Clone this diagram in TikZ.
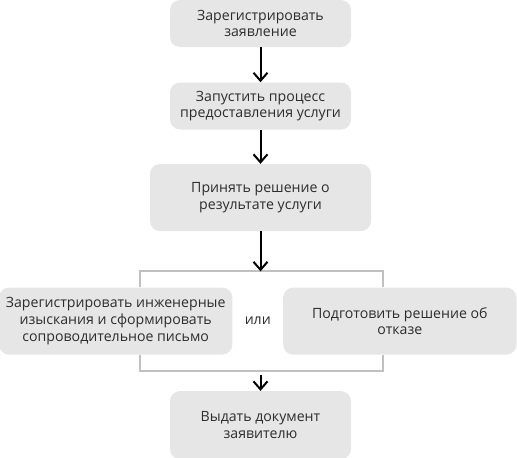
\documentclass[tikz,border=0pt]{standalone}
\usepackage{fontspec}
\setmainfont{Open Sans}
\usepackage{tikz}
\usetikzlibrary{arrows.meta, positioning, calc}
\definecolor{boxgrey}{RGB}{230, 230, 230}
\definecolor{textgrey}{RGB}{45, 45, 45}
\definecolor{linegrey}{RGB}{192, 192, 192}

\begin{document}
\begin{tikzpicture}[
    box/.style={rectangle, rounded corners=7.5pt, fill=boxgrey, text=textgrey,
                minimum width=135.75pt, minimum height=35.25pt, align=center,
                inner sep=0pt, font=\fontsize{10.6}{12.5}\selectfont},
    widebox/.style={box, minimum width=165.75pt, minimum height=50.25pt},
    branchbox/.style={box, minimum width=175pt, minimum height=50.25pt},
    arrow/.style={-{Straight Barb[length=6pt, width=10.5pt]}, line width=1.5pt, black},
    bracket/.style={line width=1.5pt, linegrey}
]
    \useasboundingbox (0,0) rectangle (387.75pt,-342.75pt);

    % Main steps
    \node[box] (register) at (195.375pt,-17.625pt) {Зарегистрировать\\заявление};
    \node[box, below=26.25pt of register] (launch) {Запустить процесс\\предоставления услуги};
    \node[widebox, below=25.5pt of launch] (decide) {Принять решение о\\результате услуги};

    % Branches
    \node[branchbox, below=42pt of decide, xshift=-108.6pt] (survey)
        {Зарегистрировать инженерные\\изыскания и сформировать\\сопроводительное письмо};
    \node[branchbox, below=42pt of decide, xshift=104.5pt] (refuse)
        {Подготовить решение об\\отказе};
    \node[text=textgrey, font=\fontsize{10.6}{12.5}\selectfont] (or)
        at ($(survey.east)!0.5!(refuse.west)$) {или};

    % Split and merge
    \coordinate (split) at ([yshift=12pt]survey.north -| decide.south);
    \coordinate (merge) at ([yshift=-12pt]survey.south -| decide.south);
    \draw[bracket] ([xshift=18.5pt]survey.north) -- ++(0,12pt) -| ([xshift=-12.5pt]refuse.north);
    \draw[bracket] ([xshift=18pt]survey.south) -- ++(0,-12pt) -| ([xshift=-12.75pt]refuse.south);

    \node[box, minimum height=51pt, below=15pt of merge] (issue) {Выдать документ\\заявителю};

    % Arrows
    \draw[arrow] (register) -- (launch);
    \draw[arrow] (launch) -- (decide);
    \draw[arrow] (decide) -- (split);
    \draw[arrow] ([yshift=-3pt]merge) -- (issue);
\end{tikzpicture}
\end{document}
